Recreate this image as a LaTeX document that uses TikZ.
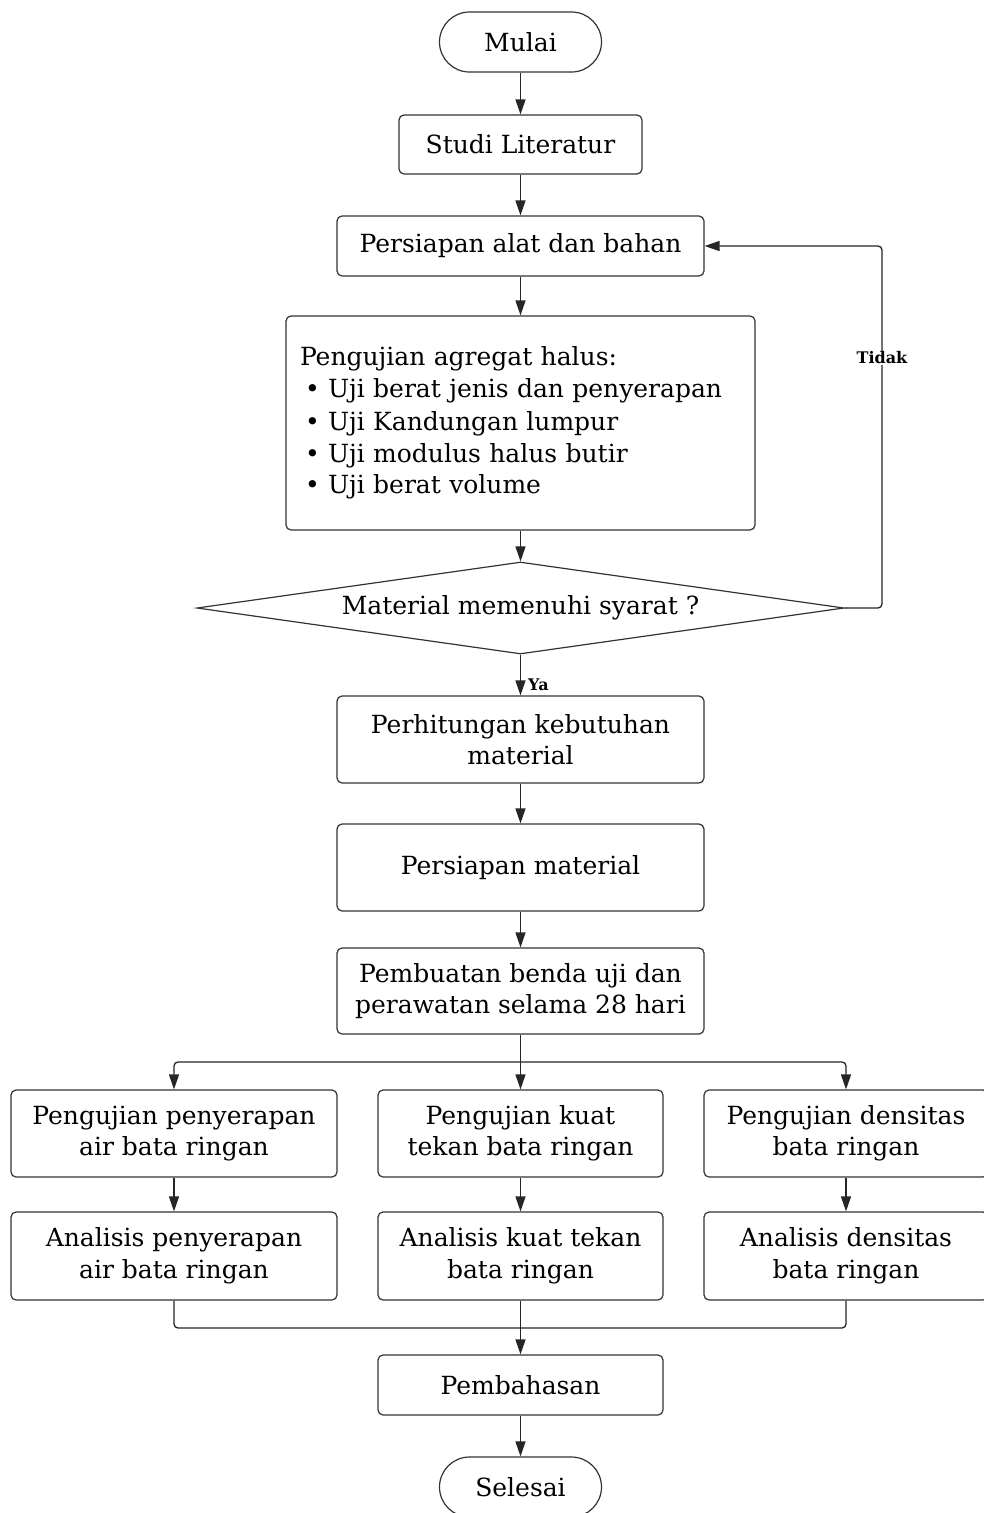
\documentclass[tikz,border=0pt]{standalone}
\usepackage{fontspec}
\setmainfont{DejaVu Serif}
\usetikzlibrary{arrows.meta,shapes.geometric,calc}
\begin{document}
\begin{tikzpicture}[x=1pt,y=1pt,
  every node/.style={text=black, font=\fontsize{25}{31.5}\selectfont},
  box/.style={draw=black!80, line width=1.2pt, rounded corners=5pt, align=center, inner sep=4pt},
  term/.style={draw=black!80, line width=1.2pt, rounded corners=30pt, minimum width=162pt, minimum height=60pt, inner sep=0pt},
  decis/.style={draw=black!80, line width=1.2pt, diamond, aspect=7.03, minimum width=647pt, minimum height=92pt, inner sep=0pt},
  arr/.style={draw=black!85, line width=1.3pt, -{Triangle[length=15pt,width=10pt]}, rounded corners=4pt},
  conn/.style={draw=black!85, line width=1.3pt, rounded corners=4pt},
  lbl/.style={font=\fontsize{16}{19}\selectfont\bfseries, inner sep=1pt}
]
\useasboundingbox (0,0) rectangle (984,-1513);
\fill[white] (0,0) rectangle (984,-1513);

\node[term] (mulai) at (520.5,-42) {Mulai};
\node[box, minimum width=243pt, minimum height=59pt] (studi) at (520.5,-144.5) {Studi Literatur};
\node[box, minimum width=367pt, minimum height=60pt] (alat) at (520.5,-246) {Persiapan alat dan bahan};
\node[box, text width=441pt, inner sep=14pt, minimum height=214pt, align=left] (uji) at (520.5,-423)
  {\fontsize{25}{32.2}\selectfont Pengujian agregat halus:\\
   \hspace*{5pt}• Uji berat jenis dan penyerapan\\
   \hspace*{5pt}• Uji Kandungan lumpur\\
   \hspace*{5pt}• Uji modulus halus butir\\
   \hspace*{5pt}• Uji berat volume};
\node[decis] (syarat) at (520.5,-608) {Material memenuhi syarat ?};
\node[box, minimum width=367pt, minimum height=87pt] (hitung) at (520.5,-739.5) {Perhitungan kebutuhan\\material};
\node[box, minimum width=367pt, minimum height=87pt] (mat) at (520.5,-867.5) {Persiapan material};
\node[box, minimum width=367pt, minimum height=86pt] (buat) at (520.5,-991) {Pembuatan benda uji dan\\perawatan selama 28 hari};

\node[box, minimum width=326pt, minimum height=87pt] (p1) at (174,-1133.5) {Pengujian penyerapan\\air bata ringan};
\node[box, minimum width=285pt, minimum height=87pt] (p2) at (520.5,-1133.5) {Pengujian kuat\\tekan bata ringan};
\node[box, minimum width=284pt, minimum height=87pt] (p3) at (846,-1133.5) {Pengujian densitas\\bata ringan};
\node[box, minimum width=326pt, minimum height=88pt] (a1) at (174,-1256) {Analisis penyerapan\\air bata ringan};
\node[box, minimum width=285pt, minimum height=88pt] (a2) at (520.5,-1256) {Analisis kuat tekan\\bata ringan};
\node[box, minimum width=284pt, minimum height=88pt] (a3) at (846,-1256) {Analisis densitas\\bata ringan};

\node[box, minimum width=285pt, minimum height=60pt] (bahas) at (520.5,-1385) {Pembahasan};
\node[term] (selesai) at (520.5,-1487) {Selesai};

\coordinate (loopr) at (882,-608);
\coordinate (split) at (520.5,-1062);
\coordinate (merge) at (520.5,-1328);

\draw[arr] (mulai) -- (studi);
\draw[arr] (studi) -- (alat);
\draw[arr] (alat) -- (uji);
\draw[arr] (uji) -- (syarat);
\draw[arr] (syarat.east) -- (loopr) |- (alat.east);
\node[lbl, fill=white] (tidak) at (882,-358) {Tidak};
\draw[arr] (syarat) -- (hitung);
\node[lbl, anchor=west] (ya) at (527,-685) {Ya};
\draw[arr] (hitung) -- (mat);
\draw[arr] (mat) -- (buat);
\draw[conn] (buat) -- (split);
\draw[arr] (split) -| (p1.north);
\draw[arr] (split) -- (p2.north);
\draw[arr] (split) -| (p3.north);
\draw[arr] (p1) -- (a1);
\draw[arr] (p2) -- (a2);
\draw[arr] (p3) -- (a3);
\draw[conn] (a1.south) |- (merge);
\draw[conn] (a3.south) |- (merge);
\draw[arr] (a2) -- (bahas);
\draw[arr] (bahas) -- (selesai);
\end{tikzpicture}
\end{document}
